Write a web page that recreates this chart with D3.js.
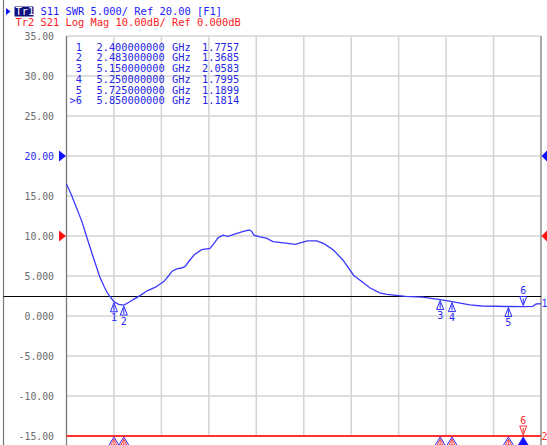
<!DOCTYPE html>
<head>
  <meta charset="utf-8">
  <script src="https://d3js.org/d3.v7.min.js"></script>
  <style>
    body { margin: 0; background: #fff; }
    text { font-family: "DejaVu Sans Mono", monospace; }
    .grid line { stroke: #d4d4d4; stroke-width: 1.5px; }
    .trace { fill: none; stroke: #3a3aff; stroke-width: 1.3px; }
  </style>
</head>

<body>
  <script>

    // Trace 1: S11 SWR (GHz, SWR)
    var freqGHz = [2.00, 2.04, 2.08, 2.13, 2.17, 2.22, 2.28, 2.32, 2.35, 2.40, 2.44, 2.483,
      2.53, 2.58, 2.62, 2.68, 2.75, 2.82, 2.86, 2.89, 2.93, 2.97, 3.00, 3.04, 3.08, 3.14,
      3.21, 3.25, 3.28, 3.32, 3.36, 3.43, 3.50, 3.54, 3.56, 3.58, 3.63, 3.69, 3.74, 3.83,
      3.93, 3.97, 4.03, 4.11, 4.17, 4.25, 4.33, 4.42, 4.48, 4.56, 4.64, 4.70, 4.76, 4.86,
      5.00, 5.15, 5.25, 5.40, 5.50, 5.725, 5.85, 5.93, 5.96, 6.00];
    var swr = [16.5, 15.2, 13.7, 11.8, 9.9, 7.6, 4.9, 3.6, 2.75, 1.78, 1.45, 1.37,
      1.75, 2.2, 2.55, 3.15, 3.6, 4.3, 5.0, 5.6, 5.9, 6.0, 6.2, 7.0, 7.7, 8.3,
      8.45, 9.2, 9.8, 10.1, 9.95, 10.3, 10.6, 10.75, 10.6, 10.1, 9.9, 9.7, 9.3, 9.15,
      8.95, 9.15, 9.4, 9.4, 9.05, 8.25, 7.0, 5.1, 4.4, 3.5, 2.9, 2.7, 2.6, 2.45,
      2.35, 2.06, 1.80, 1.4, 1.25, 1.19, 1.18, 1.2, 1.5, 1.55];

    // Trace 2: S21 log mag (dB), all below the bottom of its scale
    var s21Freq = [2.0, 2.4, 3.0, 4.0, 5.0, 5.85, 6.0];
    var s21dB = [-72, -68, -70, -66, -69, -71, -70];

    // Markers
    var markerId = ["1", "2", "3", "4", "5", "6"];
    var markerFreq = [2.4, 2.483, 5.15, 5.25, 5.725, 5.85];
    var markerSwr = [1.7757, 1.3685, 2.0583, 1.7995, 1.1899, 1.1814];
    var activeMarker = 5;

    var yTicks = [35, 30, 25, 20, 15, 10, 5, 0, -5, -10, -15];
    var yTickLabels = ["35.00", "30.00", "25.00", "20.00", "15.00", "10.00", "5.000", "0.000", "-5.000", "-10.00", "-15.00"];
    var xGrid = [2.0, 2.4, 2.8, 3.2, 3.6, 4.0, 4.4, 4.8, 5.2, 5.6, 6.0];
    var limitSwr = 2.5;

    var svg = d3.select("body").append("svg")
      .attr("width", 547)
      .attr("height", 445);

    var pLeft = 66.5, pRight = 541, pTop = 36, pBottom = 436;

    var x = d3.scaleLinear().domain([2.0, 6.0]).range([pLeft, pRight]);
    var y = d3.scaleLinear().domain([-15, 35]).range([pBottom, pTop]);
    // Tr2: 10 dB/div, ref 0 dB at the 10.00 line -> -50..+50 dB
    var y2 = d3.scaleLinear().domain([-50, 50]).range([pBottom, pTop]).clamp(true);

    // outer panel border
    svg.append("line").attr("x1", 3.5).attr("x2", 3.5).attr("y1", 0).attr("y2", 445)
      .attr("stroke", "#777").attr("stroke-width", 1.2);

    // grid
    var grid = svg.append("g").attr("class", "grid");
    grid.selectAll(".h").data(yTicks).enter().append("line")
      .attr("x1", pLeft).attr("x2", pRight)
      .attr("y1", function(d) { return y(d); })
      .attr("y2", function(d) { return y(d); });
    grid.selectAll(".v").data(xGrid).enter().append("line")
      .attr("y1", pTop).attr("y2", pBottom)
      .attr("x1", function(d) { return x(d); })
      .attr("x2", function(d) { return x(d); });

    svg.append("line").attr("x1", pLeft).attr("x2", pLeft).attr("y1", pTop).attr("y2", 445)
      .attr("stroke", "#7a7a7a").attr("stroke-width", 1.2);
    svg.append("line").attr("x1", pRight).attr("x2", pRight).attr("y1", pTop).attr("y2", 445)
      .attr("stroke", "#a8a8a8").attr("stroke-width", 2);

    // y tick labels
    svg.selectAll(".ylab").data(yTicks).enter().append("text")
      .attr("class", "ylab")
      .attr("x", 54)
      .attr("y", function(d) { return y(d) + 3.5; })
      .attr("text-anchor", "end")
      .style("font-size", "9.8px")
      .attr("fill", function(d) { return d === 20 ? "#2626f0" : "#6a6a6a"; })
      .text(function(d, i) { return yTickLabels[i]; });

    // reference arrows
    function refArrows(v, color) {
      var yy = y(v);
      svg.append("path").attr("d", "M59," + (yy - 5.5) + "L66," + yy + "L59," + (yy + 5.5) + "Z").attr("fill", color);
      svg.append("path").attr("d", "M547," + (yy - 5.5) + "L541.5," + yy + "L547," + (yy + 5.5) + "Z").attr("fill", color);
    }
    refArrows(20, "#1010ff");
    refArrows(10, "#ff1010");

    // limit line
    var ly = Math.round(y(limitSwr)) + 0.5;
    svg.append("line").attr("x1", 3.5).attr("x2", pRight)
      .attr("y1", ly).attr("y2", ly)
      .attr("stroke", "#000").attr("stroke-width", 1);

    // trace 2 (clipped at bottom)
    var line2 = d3.line()
      .x(function(d, i) { return x(s21Freq[i]); })
      .y(function(d) { return y2(d); });
    svg.append("path").datum(s21dB)
      .attr("fill", "none").attr("stroke", "#ff3030").attr("stroke-width", 2)
      .attr("d", line2);

    // trace 1
    var line = d3.line()
      .x(function(d, i) { return x(freqGHz[i]); })
      .y(function(d) { return y(d); });
    svg.append("path").datum(swr).attr("class", "trace").attr("d", line);

    // markers on trace 1
    var mk = svg.selectAll(".mk").data(markerSwr).enter().append("g")
      .attr("transform", function(d, i) { return "translate(" + x(markerFreq[i]) + "," + y(d) + ")"; });
    mk.append("path")
      .attr("d", function(d, i) {
        return i === activeMarker
          ? "M0,-1L-3.5,-10L3.5,-10Z M0,-3L0,-8"
          : "M0,1L-3.5,10L3.5,10Z M0,3L0,9";
      })
      .attr("fill", "none").attr("stroke", "#2a2aff").attr("stroke-width", 1);
    mk.append("text")
      .attr("y", function(d, i) { return i === activeMarker ? -12.5 : 19.5; })
      .attr("text-anchor", "middle")
      .style("font-size", "10px")
      .attr("fill", "#2a2aff")
      .text(function(d, i) { return markerId[i]; });

    // markers on trace 2 (at the bottom edge)
    var mk2 = svg.selectAll(".mk2").data(markerFreq).enter().append("g")
      .attr("transform", function(d) { return "translate(" + x(d) + "," + pBottom + ")"; });
    mk2.append("path")
      .attr("d", "M0,1L-5.5,10L5.5,10Z")
      .attr("fill", function(d, i) { return i === activeMarker ? "#1010ff" : "none"; })
      .attr("stroke", "#2a2aff").attr("stroke-width", 1);
    mk2.filter(function(d, i) { return i !== activeMarker; }).append("path")
      .attr("d", "M0,3L-3,9L3,9Z M0,4L0,9")
      .attr("fill", "none").attr("stroke", "#ff3030").attr("stroke-width", 0.9);
    var act2 = mk2.filter(function(d, i) { return i === activeMarker; });
    act2.append("path").attr("d", "M0,-1L-3.5,-10L3.5,-10Z M0,-3L0,-8")
      .attr("fill", "none").attr("stroke", "#ff3030").attr("stroke-width", 1);
    act2.append("text").attr("y", -12.5).attr("text-anchor", "middle")
      .style("font-size", "10px").attr("fill", "#ff3030")
      .text(markerId[activeMarker]);

    // trace end labels
    svg.append("text").attr("x", 541.5).attr("y", y(swr[swr.length - 1]) + 3.5)
      .style("font-size", "10px").attr("fill", "#2a2aff").text("1");
    svg.append("text").attr("x", 541.5).attr("y", pBottom + 3.5)
      .style("font-size", "10px").attr("fill", "#ff3030").text("2");

    // marker table
    var rows = svg.selectAll(".row").data(markerFreq).enter().append("g")
      .attr("transform", function(d, i) { return "translate(0," + (50.5 + i * 10.75) + ")"; })
      .attr("fill", "#2626e6").style("font-size", "10.3px");
    rows.append("text").attr("x", 82).attr("text-anchor", "end")
      .text(function(d, i) { return (i === activeMarker ? ">" : "") + markerId[i]; });
    rows.append("text").attr("x", 96.5).text(function(d) { return d.toFixed(9); });
    rows.append("text").attr("x", 172).text("GHz");
    rows.append("text").attr("x", 202).text(function(d, i) { return markerSwr[i].toFixed(4); });

    // header
    svg.append("path").attr("d", "M6,8L10.5,11.5L6,15Z").attr("fill", "#1010ff");
    svg.append("rect").attr("x", 14.5).attr("y", 6.5).attr("width", 19).attr("height", 10).attr("fill", "#101080");
    svg.append("text").attr("x", 15.5).attr("y", 15).style("font-size", "10.4px").attr("fill", "#fff").text("Tr1");
    svg.append("text").attr("x", 15.5 + 4 * 6.26).attr("y", 15).style("font-size", "10.4px").attr("fill", "#1a1aff")
      .style("white-space", "pre")
      .text("S11 SWR 5.000/ Ref 20.00 [F1]");
    svg.append("text").attr("x", 15.5).attr("y", 25.5).style("font-size", "10.4px").attr("fill", "#ff1a1a")
      .style("white-space", "pre")
      .text("Tr2 S21 Log Mag 10.00dB/ Ref 0.000dB");

  </script>
</body>
